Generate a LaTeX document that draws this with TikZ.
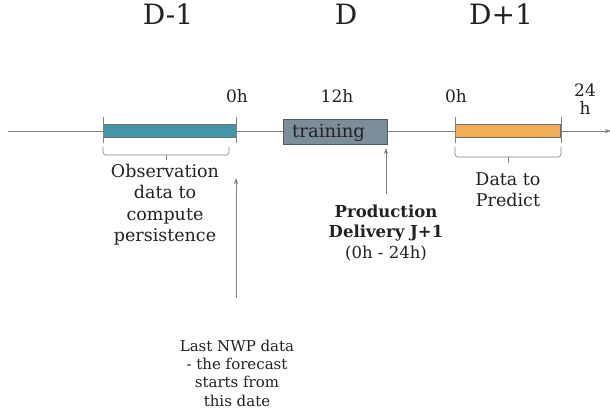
\documentclass[tikz,border=0pt]{standalone}
\usepackage{fontspec}
\setmainfont{DejaVu Serif}
\usetikzlibrary{arrows.meta}
\definecolor{tealbar}{HTML}{4496A6}
\definecolor{trainfill}{HTML}{7B8D99}
\definecolor{trainedge}{HTML}{4E5D68}
\definecolor{orangebar}{HTML}{F2AD57}
\definecolor{baredge}{HTML}{6F6F6F}
\definecolor{linegray}{HTML}{808080}
\definecolor{txt}{HTML}{222222}
\tikzset{
  axis/.style={draw=linegray, line width=0.8pt},
  tick/.style={draw=linegray, line width=0.6pt},
  bar/.style={draw=baredge, line width=0.6pt, inner sep=0pt, minimum height=13pt},
  lbl/.style={inner sep=0pt, text=txt, font=\fontsize{17}{18}\selectfont},
  daylbl/.style={inner sep=0pt, text=txt, font=\fontsize{28}{30}\selectfont},
  note/.style={inner sep=0pt, text=txt, align=center},
  brc/.style={draw=linegray, line width=0.6pt, rounded corners=3pt},
  upar/.style={draw=linegray, line width=0.7pt, -{Stealth[length=6pt,width=4pt]}},
}
\begin{document}
\begin{tikzpicture}[x=1pt,y=-1pt]
\useasboundingbox[fill=white] (0,0) rectangle (610,414);
% day labels
\node[daylbl, anchor=base] (dm1) at (168,25) {D-1};
\node[daylbl, anchor=base] (d0) at (346,25) {D};
\node[daylbl, anchor=base] (dp1) at (501,25) {D+1};
% timeline
\coordinate (tlstart) at (8,131);
\coordinate (tlend) at (611,131);
\draw[axis, -{Stealth[length=6pt,width=4pt]}] (tlstart) -- (tlend);
% bars
\node[bar, fill=tealbar, minimum width=133pt] (obs) at (169.5,130.5) {};
\node[draw=trainedge, line width=0.7pt, fill=trainfill, minimum width=104pt, minimum height=25pt, inner sep=0pt] (train) at (335,131.5) {};
\node[lbl, anchor=base west, font=\fontsize{18}{19}\selectfont] (traintxt) at (292,137.5) {training};
\node[bar, fill=orangebar, minimum width=105pt] (pred) at (507.5,130.5) {};
% ticks
\draw[tick] (103,117) -- (103,143);
\draw[tick] (236,117) -- (236,143);
\draw[tick] (455,117) -- (455,143);
\draw[tick] (561,117) -- (561,143);
% hour labels
\node[lbl, anchor=base] (h0a) at (237,103) {0h};
\node[lbl, anchor=base] (h12) at (337,103) {12h};
\node[lbl, anchor=base] (h0b) at (456,103) {0h};
\node[lbl, anchor=base, align=center, font=\fontsize{17}{18}\selectfont] (h24) at (585,115) {24\\h};
% braces
\draw[brc] (103,147) -- (103,155) -- (229,155) -- (229,147);
\draw[tick] (166,155) -- (166,160);
\draw[brc] (455,147) -- (455,157) -- (561,157) -- (561,147);
\draw[tick] (508,157) -- (508,163);
% notes
\node[note, anchor=base, font=\fontsize{17.5}{21.5}\selectfont] (obstxt) at (165,241.5) {Observation\\data to\\compute\\persistence};
\node[note, anchor=base, font=\fontsize{17.5}{21.5}\selectfont] (predtxt) at (508,207) {Data to\\Predict};
\node[note, anchor=base, font=\fontsize{16.5}{20.3}\selectfont] (prod) at (386,258) {\textbf{Production}\\\textbf{Delivery J+1}\\(0h - 24h)};
\node[note, anchor=base, font=\fontsize{15}{18.3}\selectfont] (nwp) at (237,406) {Last NWP data\\- the forecast\\starts from\\this date};
% arrows
\coordinate (nwpbot) at (236,298);
\coordinate (nwptop) at (236,178);
\draw[upar] (nwpbot) -- (nwptop);
\coordinate (prodbot) at (386,194);
\coordinate (prodtop) at (386,148);
\draw[upar] (prodbot) -- (prodtop);
\end{tikzpicture}
\end{document}
